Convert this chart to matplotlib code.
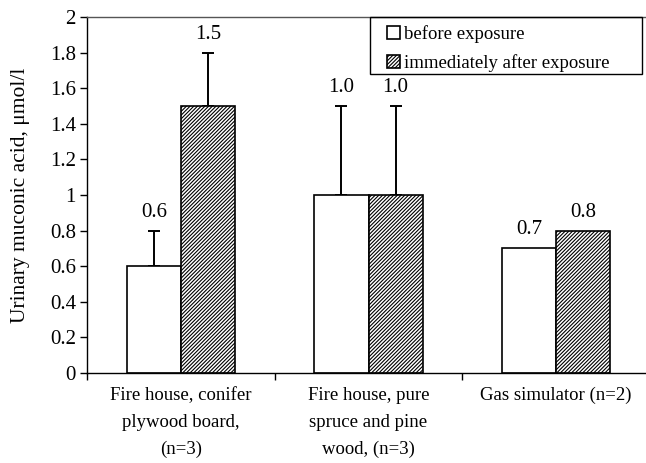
"""Urinary muconic acid before/after exposure, grouped bar chart."""
import matplotlib
matplotlib.use("Agg")
import matplotlib.pyplot as plt
from matplotlib.patches import Rectangle
import numpy as np

categories = [
    "Fire house, conifer\nplywood board,\n(n=3)",
    "Fire house, pure\nspruce and pine\nwood, (n=3)",
    "Gas simulator (n=2)",
]
before = [0.6, 1.0, 0.7]
after = [1.5, 1.0, 0.8]
before_err = [0.2, 0.5, 0.0]
after_err = [0.3, 0.5, 0.0]
series_labels = ["before exposure", "immediately after exposure"]
yticks = [0, 0.2, 0.4, 0.6, 0.8, 1, 1.2, 1.4, 1.6, 1.8, 2]
ytick_labels = ["0", "0.2", "0.4", "0.6", "0.8", "1", "1.2", "1.4", "1.6", "1.8", "2"]

plt.rcParams["font.family"] = ["Liberation Serif", "DejaVu Serif"]
plt.rcParams["hatch.linewidth"] = 0.8

fig = plt.figure(figsize=(6.46, 4.63), dpi=100)
ax = fig.add_axes([87 / 646, 90 / 463, 563 / 646, 356 / 463])

x = np.arange(len(categories))
w = 0.288

ax.bar(x - w / 2, before, w, color="white", edgecolor="black", lw=1.2,
       label=series_labels[0], zorder=2)
ax.bar(x + w / 2, after, w, color="white", edgecolor="black", lw=1.2,
       hatch="/" * 9, label=series_labels[1], zorder=2)

for xs, vals, err in [(x - w / 2, before, before_err), (x + w / 2, after, after_err)]:
    e = np.array(err)
    m = e > 0
    ax.errorbar(xs[m], np.array(vals)[m], yerr=[np.zeros(m.sum()), e[m]], fmt="none",
                ecolor="black", elinewidth=1.4, capsize=4, capthick=1.4, zorder=1)
    for xi, v, ei in zip(xs, vals, err):
        ax.annotate(f"{v:.1f}", (xi, v + ei), xytext=(0, 6.5), textcoords="offset points",
                    ha="center", va="bottom", fontsize=15)

ax.set_xlim(-0.5, 2.5)
ax.set_ylim(0, 2)
ax.set_yticks(yticks)
ax.set_yticklabels(ytick_labels, fontsize=15)
ax.set_xticks(x)
ax.set_xticklabels(categories, fontsize=13.5, linespacing=1.75)
ax.set_xticks([-0.5, 0.5, 1.5, 2.5], minor=True)
ax.tick_params(axis="x", which="major", length=0, pad=10)
ax.tick_params(axis="x", which="minor", length=5, width=1, direction="out")
ax.tick_params(axis="y", length=5, width=1, direction="out", pad=3)
ax.set_ylabel("Urinary muconic acid, μmol/l", fontsize=15.5, labelpad=14)

for s in ax.spines.values():
    s.set_linewidth(1.0)
ax.spines["top"].set_color("#555555")

# legend box drawn separately so its padding matches the original
fig.patches.append(Rectangle((370 / 646, 389 / 463), 272 / 646, 57 / 463,
                             transform=fig.transFigure, fill=False,
                             edgecolor="black", lw=1.0, zorder=5))
leg = ax.legend(loc="upper left", bbox_to_anchor=(387 / 646, 438 / 463),
                bbox_transform=fig.transFigure, borderaxespad=0, borderpad=0,
                frameon=False, fontsize=13.5, handlelength=0.7, handleheight=0.7,
                handletextpad=0.2, labelspacing=0.6)

fig.savefig("out.png", dpi=100)
